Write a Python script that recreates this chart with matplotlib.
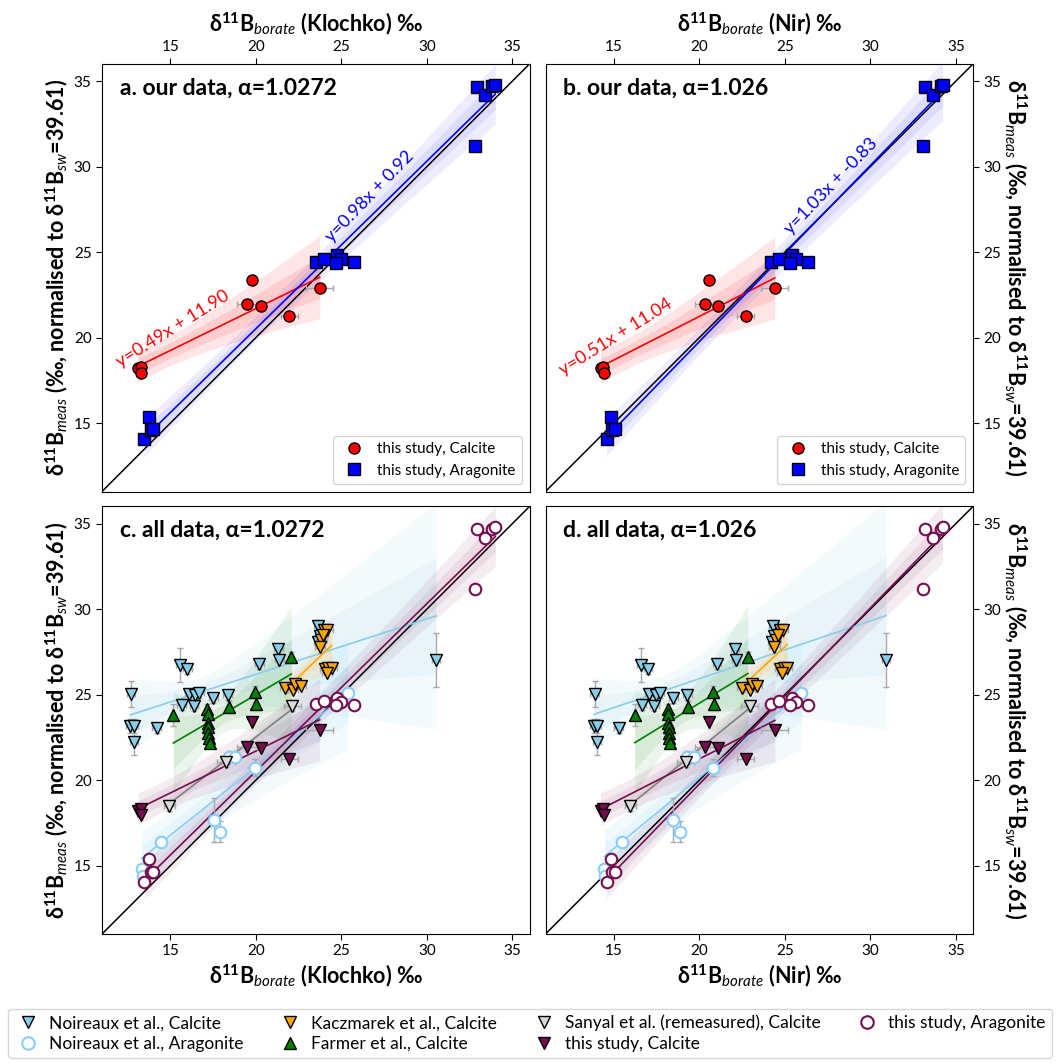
import numpy as np
import matplotlib
matplotlib.use('Agg')
import matplotlib.pyplot as plt
from matplotlib.lines import Line2D

plt.rcParams['font.family'] = ['Lato', 'DejaVu Sans']
plt.rcParams['mathtext.fontset'] = 'custom'
plt.rcParams['mathtext.rm'] = 'Lato:bold'
plt.rcParams['mathtext.it'] = 'Lato:italic'
plt.rcParams['mathtext.bf'] = 'Lato:bold'

# ---------------- data ----------------
# this study, calcite
tc_xk = [13.10, 13.26, 13.26, 19.75, 19.48, 20.28, 21.96, 23.73]
tc_xn = [14.22, 14.36, 14.41, 20.57, 20.34, 21.10, 22.70, 24.41]
tc_y = [18.22, 18.30, 17.95, 23.37, 21.96, 21.87, 21.26, 22.92]
tc_xerr = [0.1, 0.1, 0.1, 0.1, 0.6, 0.1, 0.5, 0.8]

# this study, aragonite
ta_xk = [13.73, 13.46, 13.85, 14.00, 23.53, 24.00, 24.72, 25.00, 24.66, 25.76,
         32.95, 33.42, 33.81, 34.00, 32.83]
ta_xn = [14.82, 14.57, 14.90, 15.09, 24.20, 24.68, 25.39, 25.62, 25.31, 26.34,
         33.22, 33.65, 34.10, 34.22, 33.09]
ta_y = [15.36, 14.05, 14.60, 14.64, 24.44, 24.60, 24.83, 24.58, 24.38, 24.42,
        34.67, 34.17, 34.71, 34.79, 31.20]
ta_xerr = [0.1, 0.1, 0.1, 0.3, 0.1, 0.1, 0.1, 0.1, 0.1, 0.1, 0.1, 0.1, 0.1, 0.1, 0.1]

# Noireaux et al., calcite
nc_xk = [12.70, 12.64, 12.87, 12.87, 14.20, 15.56, 15.99, 15.66, 16.09, 16.38, 16.46,
         16.69, 17.51, 18.35, 20.20, 21.31, 21.37, 23.65, 23.72, 23.62, 30.53]
nc_xn = [13.87, 13.83, 14.02, 14.02, 15.27, 16.60, 17.00, 16.65, 17.06, 17.37, 17.45,
         17.68, 18.47, 19.29, 21.04, 22.09, 22.13, 24.30, 24.36, 24.27, 30.92]
nc_y = [25.02, 23.18, 23.18, 22.22, 23.06, 26.74, 26.51, 24.42, 25.02, 24.36, 24.96,
        25.10, 24.79, 24.96, 26.80, 27.68, 27.04, 29.04, 28.45, 28.05, 27.03]
nc_xerr = [0.25] * 21
nc_yerr = [0.75, 0.4, 0.4, 0.75, 0.3, 1.0, 0.3, 0.3, 0.3, 0.3, 0.3,
           0.3, 0.3, 0.3, 0.3, 0.3, 0.3, 0.3, 0.3, 0.3, 1.6]

# Noireaux et al., aragonite
na_xk = [13.32, 13.38, 14.43, 17.55, 17.90, 18.44, 18.78, 19.97, 25.37]
na_xn = [14.45, 14.50, 15.48, 18.47, 18.84, 19.29, 19.67, 20.81, 25.97]
na_y = [14.81, 14.42, 16.37, 17.68, 16.99, 21.38, 21.34, 20.72, 25.11]
na_xerr = [0.1] * 9
na_yerr = [0.3, 0.3, 0.3, 1.3, 0.6, 0.3, 0.3, 0.5, 0.3]

# Kaczmarek et al., calcite
kz_xk = [23.98, 24.18, 23.83, 23.75, 23.90, 24.04, 24.24, 24.43, 24.14,
         21.70, 22.15, 22.29, 22.64]
kz_xn = [24.70, 24.90, 24.50, 24.39, 24.58, 24.74, 24.93, 25.13, 24.84,
         22.50, 22.95, 23.05, 23.38]
kz_y = [28.75, 28.75, 28.22, 27.77, 28.50, 26.47, 26.55, 26.55, 26.27,
        25.38, 25.24, 25.63, 25.53]
kz_xerr = [0.3] * 13

# Farmer et al., calcite
fm_xk = [15.17, 17.16, 17.18, 17.20, 17.22, 17.22, 17.25, 17.30, 18.43, 19.97, 20.00, 22.07]
fm_xn = [16.22, 18.15, 18.16, 18.18, 18.20, 18.20, 18.23, 18.28, 19.32, 20.81, 20.85, 22.83]
fm_y = [23.82, 24.13, 23.86, 23.35, 23.10, 22.77, 22.46, 22.15, 24.26, 25.18, 24.46, 27.19]
fm_yerr = [0.65, 0.3, 0.3, 0.3, 0.3, 0.3, 0.3, 0.3, 0.35, 0.35, 0.35, 0.3]

# Sanyal et al. (remeasured), calcite
sy_xk = [14.94, 18.25, 22.13]
sy_xn = [15.97, 19.19, 22.93]
sy_y = [18.51, 21.05, 24.32]
sy_xerr = [0.3, 0.5, 0.5]
sy_yerr = [0.3, 0.3, 0.3]

# fitted lines (slope, intercept)
fit_k = {'tc': (0.49, 11.90), 'ta': (0.98, 0.92), 'nc': (0.324, 19.71),
         'na': (0.80, 4.77), 'kz': (0.955, 4.55), 'fm': (0.585, 13.29),
         'sy': (0.771, 7.10)}
fit_n = {'tc': (0.51, 11.04), 'ta': (1.03, -0.83), 'nc': (0.338, 19.17),
         'na': (0.83, 3.55), 'kz': (0.933, 4.48), 'fm': (0.612, 12.26),
         'sy': (0.81, 5.63)}

titles = ['a. our data, α=1.0272', 'b. our data, α=1.026',
          'c. all data, α=1.0272', 'd. all data, α=1.026']
xlab_k = r'δ$^{11}$B$_{borate}$ (Klochko) ‰'
xlab_n = r'δ$^{11}$B$_{borate}$ (Nir) ‰'
ylab = r'δ$^{11}$B$_{meas}$ (‰, normalised to δ$^{11}$B$_{sw}$=39.61)'
ticks = [15, 20, 25, 30, 35]
lims = (11, 36)

# ---------------- helpers ----------------
def jack_se(x, y, xs):
    x = np.asarray(x, float)
    y = np.asarray(y, float)
    n = len(x)
    preds = []
    for i in range(n):
        m = np.ones(n, bool)
        m[i] = False
        p = np.polyfit(x[m], y[m], 1)
        preds.append(np.polyval(p, xs))
    preds = np.array(preds)
    return np.sqrt((n - 1) / n * ((preds - preds.mean(0)) ** 2).sum(0))


K_IN, K_OUT = 1.8, 3.5


def draw(ax, x, y, fit, color, bandcolor, marker, mfc, mec, ms, mew=1.0,
         xerr=None, yerr=None, band_alpha=0.12):
    x = np.asarray(x, float)
    y = np.asarray(y, float)
    xs = np.linspace(x.min(), x.max(), 200)
    m, c = fit
    yl = m * xs + c
    se = jack_se(x, y, xs)
    ax.fill_between(xs, yl - K_OUT * se, yl + K_OUT * se, color=bandcolor,
                    alpha=band_alpha, lw=0, zorder=1)
    ax.fill_between(xs, yl - K_IN * se, yl + K_IN * se, color=bandcolor,
                    alpha=band_alpha, lw=0, zorder=1)
    ax.plot(xs, yl, color=color, lw=1.2, zorder=3)
    if xerr is not None or yerr is not None:
        ax.errorbar(x, y, xerr=xerr, yerr=yerr, fmt='none', ecolor='#a8a8a8',
                    elinewidth=1.0, capsize=2.5, capthick=1.0, zorder=4)
    ax.plot(x, y, ls='none', marker=marker, mfc=mfc, mec=mec, ms=ms, mew=mew, zorder=5)


W, H = 1060, 1063
fig = plt.figure(figsize=(W / 100, H / 100), dpi=100)
side = 427.5


def add(left_px, top_px):
    return fig.add_axes([left_px / W, 1 - (top_px + side) / H, side / W, side / H])


ax_a = add(102, 64)
ax_b = add(545.5, 64)
ax_c = add(102, 506.5)
ax_d = add(545.5, 506.5)

purple = '#750D4F'
sky = '#87CEEB'
lsky = '#87CEFA'
MS = 8.3

for ax in (ax_a, ax_b, ax_c, ax_d):
    ax.set_xlim(*lims)
    ax.set_ylim(*lims)
    ax.set_xticks(ticks)
    ax.set_yticks(ticks)
    ax.plot(lims, lims, color='black', lw=1.1, zorder=2)
    ax.tick_params(labelsize=11, length=4, width=0.8)
    for s in ax.spines.values():
        s.set_linewidth(0.8)

# panels a, b
for ax, xc, xa, fit, tpos in ((ax_a, tc_xk, ta_xk, fit_k, ((15.13, 20.49), (26.63, 28.28))),
                              (ax_b, tc_xn, ta_xn, fit_n, ((15.09, 20.02), (27.72, 28.87)))):
    draw(ax, xc, tc_y, fit['tc'], 'red', 'red', 'o', 'red', 'black', 8,
         xerr=tc_xerr, band_alpha=0.1)
    draw(ax, xa, ta_y, fit['ta'], 'blue', 'blue', 's', 'blue', 'black', 8.5,
         xerr=ta_xerr, band_alpha=0.07)
    m, c = fit['tc']
    ax.text(*tpos[0], f'y={m:.2f}x + {c:.2f}', color='red', fontsize=13,
            rotation=32, ha='center', va='center', zorder=6)
    m, c = fit['ta']
    ax.text(*tpos[1], f'y={m:.2f}x + {c:.2f}', color='blue', fontsize=13,
            rotation=46, ha='center', va='center', zorder=6)
    h = [Line2D([], [], ls='none', marker='o', mfc='red', mec='black', ms=8),
         Line2D([], [], ls='none', marker='s', mfc='blue', mec='black', ms=8)]
    ax.legend(h, ['this study, Calcite', 'this study, Aragonite'], loc='lower right',
              fontsize=11, handletextpad=0.5, borderaxespad=0.5, edgecolor='#cccccc')

# panels c, d
for ax, X, fit in ((ax_c, 'k', fit_k), (ax_d, 'n', fit_n)):
    g = lambda a, b: a if X == 'k' else b
    draw(ax, g(nc_xk, nc_xn), nc_y, fit['nc'], sky, sky, 'v', sky, 'black', MS,
         xerr=nc_xerr, yerr=nc_yerr, band_alpha=0.1)
    draw(ax, g(na_xk, na_xn), na_y, fit['na'], lsky, lsky, 'o', 'white', lsky, MS,
         mew=1.5, xerr=na_xerr, yerr=na_yerr, band_alpha=0.1)
    draw(ax, g(fm_xk, fm_xn), fm_y, fit['fm'], 'green', 'green', '^', 'green', 'black', MS,
         yerr=fm_yerr, band_alpha=0.08)
    draw(ax, g(sy_xk, sy_xn), sy_y, fit['sy'], 'gray', 'lightgray', 'v', '#d9d9d9', 'black', MS,
         xerr=sy_xerr, yerr=sy_yerr, band_alpha=0.15)
    draw(ax, g(kz_xk, kz_xn), kz_y, fit['kz'], 'orange', 'orange', 'v', 'orange', 'black', MS,
         xerr=kz_xerr, band_alpha=0.1)
    draw(ax, g(tc_xk, tc_xn), tc_y, fit['tc'], purple, purple, 'v', purple, 'black', MS,
         xerr=tc_xerr, band_alpha=0.08)
    draw(ax, g(ta_xk, ta_xn), ta_y, fit['ta'], purple, purple, 'o', 'white', purple, MS,
         mew=1.5, xerr=ta_xerr, band_alpha=0.08)

for ax, t in zip((ax_a, ax_b, ax_c, ax_d), titles):
    ax.text(0.042, 0.944, t, transform=ax.transAxes, fontsize=16.5, fontweight='bold',
            ha='left', va='center', zorder=7)

lab_kw = dict(fontsize=15.5, fontweight='bold')
# a
ax_a.xaxis.tick_top()
ax_a.xaxis.set_label_position('top')
ax_a.set_xlabel(xlab_k, labelpad=6, **lab_kw)
ax_a.set_ylabel(ylab, labelpad=3, **lab_kw)
# b
ax_b.xaxis.tick_top()
ax_b.xaxis.set_label_position('top')
ax_b.set_xlabel(xlab_n, labelpad=6, **lab_kw)
ax_b.yaxis.tick_right()
ax_b.yaxis.set_label_position('right')
ax_b.set_ylabel(ylab, rotation=270, labelpad=20, **lab_kw)
# c
ax_c.set_xlabel(xlab_k, labelpad=3, **lab_kw)
ax_c.set_ylabel(ylab, labelpad=3, **lab_kw)
# d
ax_d.set_xlabel(xlab_n, labelpad=3, **lab_kw)
ax_d.yaxis.tick_right()
ax_d.yaxis.set_label_position('right')
ax_d.set_ylabel(ylab, rotation=270, labelpad=20, **lab_kw)

# bottom legend
leg_labels = ['Noireaux et al., Calcite', 'Noireaux et al., Aragonite',
              'Kaczmarek et al., Calcite', 'Farmer et al., Calcite',
              'Sanyal et al. (remeasured), Calcite', 'this study, Calcite',
              'this study, Aragonite']
leg_h = [Line2D([], [], ls='none', marker='v', mfc=sky, mec='black', ms=9),
         Line2D([], [], ls='none', marker='o', mfc='white', mec=lsky, mew=1.5, ms=9),
         Line2D([], [], ls='none', marker='v', mfc='orange', mec='black', ms=9),
         Line2D([], [], ls='none', marker='^', mfc='green', mec='black', ms=9),
         Line2D([], [], ls='none', marker='v', mfc='#d9d9d9', mec='black', ms=9),
         Line2D([], [], ls='none', marker='v', mfc=purple, mec='black', ms=9),
         Line2D([], [], ls='none', marker='o', mfc='white', mec=purple, mew=1.5, ms=9)]
fig.legend(leg_h, leg_labels, loc='upper center', bbox_to_anchor=(0.5, 1 - 1000 / H),
           ncol=4, fontsize=12.5, frameon=True, edgecolor='#cccccc', columnspacing=1.9,
           handletextpad=0.4, handlelength=1.6, borderpad=0.35, labelspacing=0.25)

fig.savefig('out.png', dpi=100)
